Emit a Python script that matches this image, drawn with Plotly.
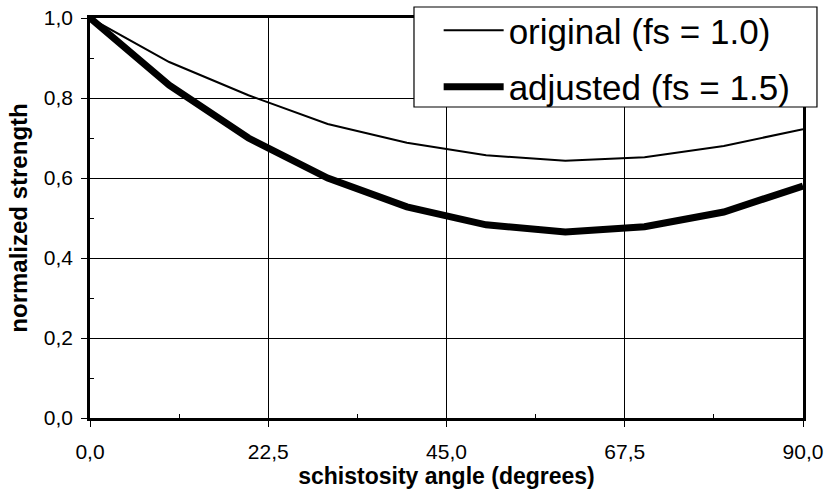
import plotly.graph_objects as go

# schistosity angle (degrees)
angle = [0, 10, 20, 30, 40, 50, 60, 70, 80, 90]
# normalized strength, original factor fs = 1.0
original = [1.0, 0.89, 0.807, 0.735, 0.688, 0.657, 0.643, 0.652, 0.68, 0.722]
# normalized strength, adjusted factor fs = 1.5
adjusted = [1.0, 0.832, 0.70, 0.60, 0.528, 0.483, 0.465, 0.478, 0.515, 0.58]

x_ticks = [0, 22.5, 45, 67.5, 90]
y_ticks = [0, 0.2, 0.4, 0.6, 0.8, 1.0]
x_minor = [11.25, 33.75, 56.25, 78.75]
y_minor = [0.1, 0.3, 0.5, 0.7, 0.9]

FONT = "Liberation Sans, Arial, sans-serif"

fig = go.Figure()
fig.add_trace(go.Scatter(x=angle, y=original, mode="lines",
                         name="original (fs = 1.0)", legendgroup="a",
                         line=dict(color="black", width=2)))
fig.add_trace(go.Scatter(x=angle, y=adjusted, mode="lines",
                         name="adjusted (fs = 1.5)", legendgroup="b",
                         line=dict(color="black", width=7)))

axis_common = dict(showline=True, linecolor="black", linewidth=2.5, mirror=True,
                   showgrid=True, gridcolor="black", gridwidth=1,
                   ticks="outside", ticklen=6, tickcolor="black", tickwidth=1,
                   zeroline=False, tickfont=dict(family=FONT, size=21, color="black"))

fig.update_xaxes(range=[0, 90], tickvals=x_ticks, tickformat=".1f",
                 ticklabelstandoff=7,
                 minor=dict(tickvals=x_minor, ticks="inside", ticklen=4,
                            tickcolor="black", tickwidth=1, showgrid=False),
                 title=dict(text="<b>schistosity angle (degrees)</b>",
                            font=dict(family=FONT, size=23, color="black"),
                            standoff=0),
                 **axis_common)
fig.update_yaxes(range=[0, 1.0], tickvals=y_ticks, tickformat=".1f",
                 ticklabelstandoff=4,
                 minor=dict(tickvals=y_minor, ticks="inside", ticklen=4,
                            tickcolor="black", tickwidth=1, showgrid=False),
                 title=dict(text="<b>normalized strength</b>",
                            font=dict(family=FONT, size=24, color="black"),
                            standoff=10),
                 **axis_common)

# framed white box behind the legend entries
fig.add_shape(type="rect", xref="paper", yref="paper",
              x0=0.4544, x1=1.0196, y0=0.7775, y1=1.0275,
              fillcolor="white", line=dict(color="black", width=1.2),
              layer="above")

fig.update_layout(
    width=827, height=501,
    margin=dict(l=90, r=24, t=18, b=83, autoexpand=False),
    paper_bgcolor="white", plot_bgcolor="white",
    separators=",.",
    showlegend=True,
    legend=dict(x=0.489, y=1.0425, xanchor="left", yanchor="top",
                bgcolor="rgba(0,0,0,0)", borderwidth=0,
                font=dict(family=FONT, size=35, color="black"),
                itemwidth=60, tracegroupgap=8),
)

fig.write_html("out.html")
